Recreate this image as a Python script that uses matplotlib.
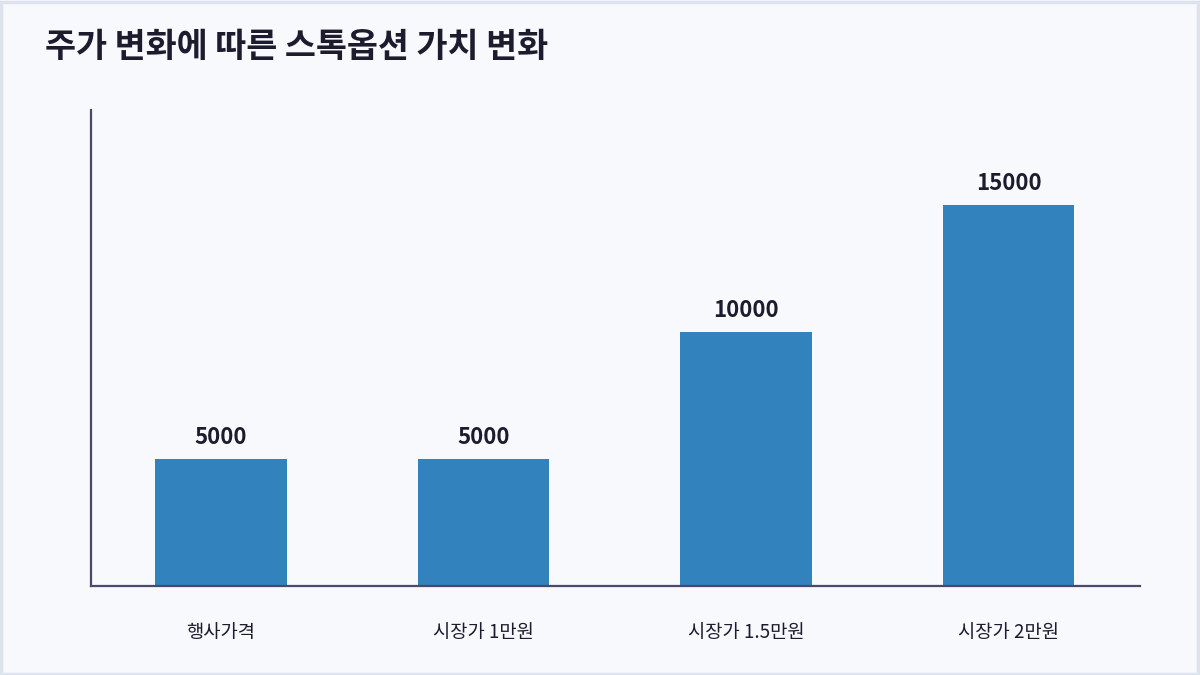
import matplotlib.pyplot as plt
from matplotlib.patches import Rectangle

plt.rcParams['font.family'] = ['Noto Sans CJK KR', 'DejaVu Sans']

categories = ['행사가격', '시장가 1만원', '시장가 1.5만원', '시장가 2만원']
values = [5000, 5000, 10000, 15000]
value_labels = ['5000', '5000', '10000', '15000']

bg = '#f8f9fd'
bar_color = '#3182bd'
text_color = '#1c1c2e'
spine_color = '#4a4a68'

fig = plt.figure(figsize=(12, 6.75), dpi=100, facecolor=bg)
fig.patches.append(Rectangle((0.001, 0.002), 0.997, 0.995, transform=fig.transFigure,
                             fill=False, edgecolor='#dde3ec', linewidth=2.5))

ax = fig.add_axes([91 / 1200, 1 - 586 / 675, (1140 - 91) / 1200, (586 - 110) / 675])
ax.set_facecolor(bg)

x = range(len(categories))
ax.bar(x, values, width=0.5, color=bar_color, zorder=2)
for xi, v, lab in zip(x, values, value_labels):
    ax.annotate(lab, (xi, v), xytext=(0, 7), textcoords='offset points',
                ha='center', va='bottom', fontsize=16, fontweight='bold', color=text_color)

ax.set_xlim(-0.495, 3.5)
ax.set_ylim(0, 18740)
ax.set_xticks(list(x))
ax.set_xticklabels(categories, fontsize=13.5, fontweight='medium', color=text_color)
ax.tick_params(axis='x', length=0, pad=26)
ax.set_yticks([])
for s in ['top', 'right']:
    ax.spines[s].set_visible(False)
for s in ['left', 'bottom']:
    ax.spines[s].set_color(spine_color)
    ax.spines[s].set_linewidth(1.6)

fig.text(45 / 1200, 1 - 46 / 675, '주가 변화에 따른 스톡옵션 가치 변화', fontsize=24.3,
         fontweight='bold', color=text_color, ha='left', va='center')

fig.savefig('out.png', dpi=100, facecolor=bg)
